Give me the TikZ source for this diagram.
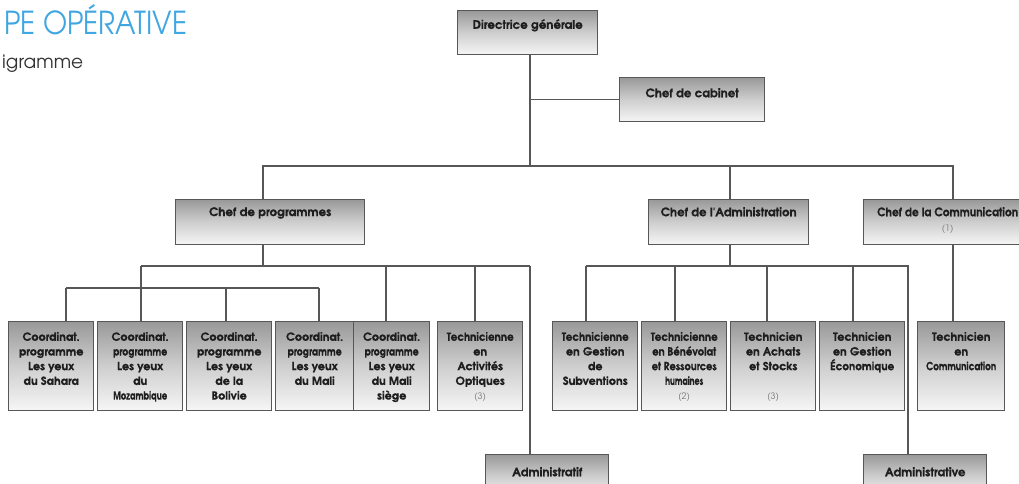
\documentclass[tikz,border=0pt]{standalone}
\usepackage{fontspec}
\usepackage{graphicx}
\newfontfamily\adv{texgyreadventor}[Extension=.otf, UprightFont=*-regular, BoldFont=*-bold, BoldFeatures={FakeBold=0.5}]
\definecolor{linegray}{HTML}{575757}
\definecolor{titleblue}{HTML}{3FA6E2}
\definecolor{inkc}{HTML}{1E1E1E}
\definecolor{notegray}{HTML}{7A7A7A}
\definecolor{subgray}{HTML}{333333}
\newcommand\cw[2]{\resizebox{#1pt}{\height}{#2}}
\newcommand\fnote[1]{{\mdseries\fontsize{9}{14.7}\selectfont\color{notegray}#1}}
\tikzset{
  obox/.style={draw=linegray, line width=1.4pt, top color=gray!80, bottom color=gray!7, middle color=gray!38, inner sep=0pt, anchor=north west},
  otext/.style={align=center, inner sep=0pt, text=inkc, font=\adv\bfseries\fontsize{11.2}{14.7}\selectfont},
  htext/.style={otext, font=\adv\bfseries\fontsize{11.8}{15}\selectfont},
  conn/.style={draw=linegray, line width=1.5pt}
}
\newcommand\obx[8]{%
  \node[obox, minimum width=#4pt-#2pt, minimum height=#5pt-#3pt] (#1) at (#2,#3) {};
  \node[#7, anchor=north] (#1t) at ([yshift=-#6pt]#1.north) {#8};
}
\begin{document}
\begin{tikzpicture}[x=1pt, y=-1pt]
\clip (0,0) rectangle (1019,483);
\fill[white] (0,0) rectangle (1019,483);
% title
\node[anchor=south west, inner sep=0pt, text=titleblue] (title) at (4,35) {\resizebox{183pt}{30pt}{\adv PE OPÉRATIVE}};
\node[anchor=base west, inner sep=0pt, text=subgray] (sub) at (2,68) {\resizebox{81pt}{!}{\adv igramme}};
% boxes
\obx{dg}{457}{10}{597}{54}{9}{htext}{Directrice générale}
\obx{cab}{619}{77}{764}{121}{11}{htext}{Chef de cabinet}
\obx{chp}{175}{199}{364}{244}{8}{htext}{Chef de programmes}
\obx{chad}{648}{199}{808}{244}{8}{htext}{Chef de l'Administration}
\obx{chc}{863}{199}{1031}{244}{8}{htext}{\cw{141}{Chef de la Communication}\\\fnote{(1)}}
\obx{sa}{8}{321}{93}{410}{11}{otext}{Coordinat.\\programme\\Les yeux\\du Sahara}
\obx{mz}{97}{321}{182}{410}{11}{otext}{Coordinat.\\\cw{54}{programme}\\Les yeux\\du\\\cw{54}{Mozambique}}
\obx{bo}{186}{321}{271}{410}{11}{otext}{Coordinat.\\programme\\Les yeux\\de la\\Bolivie}
\obx{ma}{275}{321}{353}{410}{11}{otext}{Coordinat.\\\cw{54}{programme}\\Les yeux\\du Mali}
\obx{ms}{353}{321}{429}{410}{11}{otext}{Coordinat.\\\cw{54}{programme}\\Les yeux\\du Mali\\siège}
\obx{op}{437}{321}{522}{410}{11}{otext}{\cw{67}{Technicienne}\\en\\Activités\\Optiques\\\fnote{(3)}}
\obx{sv}{552}{321}{637}{410}{11}{otext}{\cw{67}{Technicienne}\\en Gestion\\de\\\cw{65}{Subventions}}
\obx{bn}{641}{321}{726}{410}{11}{otext}{\cw{67}{Technicienne}\\\cw{64}{en Bénévolat}\\\cw{65}{et Ressources}\\\cw{38}{humaines}\\\fnote{(2)}}
\obx{ac}{730}{321}{815}{410}{11}{otext}{Technicien\\en Achats\\et Stocks\\\mbox{}\\\fnote{(3)}}
\obx{ec}{819}{321}{904}{410}{11}{otext}{Technicien\\en Gestion\\\cw{64}{Économique}}
\obx{ct}{917}{321}{1004}{410}{11}{otext}{Technicien\\en\\\cw{70}{Communication}}
\obx{adma}{485}{454}{608}{498}{13}{htext}{Administratif}
\obx{admb}{863}{454}{986}{498}{13}{htext}{Administrative}
% connectors
\draw[conn] (dg.south -| 530,0) -- (530,166);
\draw[conn] (cab.west -| 530,0) -- (cab.west);
\draw[conn] (chp.north -| 263,0) -- (263,166) -- (953,166) -- (chc.north -| 953,0);
\draw[conn] (730,166) -- (chad.north -| 730,0);
% programmes
\draw[conn] (chp.south -| 263,0) -- (263,266);
\draw[conn] (141,266) -- (530,266);
\draw[conn] (141,266) -- (mz.north -| 141,0);
\draw[conn] (386,266) -- (ms.north -| 386,0);
\draw[conn] (475,266) -- (op.north -| 475,0);
\draw[conn] (530,266) -- (adma.north -| 530,0);
\draw[conn] (66,288) -- (319,288);
\draw[conn] (66,288) -- (sa.north -| 66,0);
\draw[conn] (226,288) -- (bo.north -| 226,0);
\draw[conn] (319,288) -- (ma.north -| 319,0);
% administration
\draw[conn] (chad.south -| 730,0) -- (730,266);
\draw[conn] (586,266) -- (908,266) -- (admb.north -| 908,0);
\draw[conn] (586,266) -- (sv.north -| 586,0);
\draw[conn] (675,266) -- (bn.north -| 675,0);
\draw[conn] (767,266) -- (ac.north -| 767,0);
\draw[conn] (853,266) -- (ec.north -| 853,0);
% communication
\draw[conn] (chc.south -| 953,0) -- (ct.north -| 953,0);
\end{tikzpicture}
\end{document}
